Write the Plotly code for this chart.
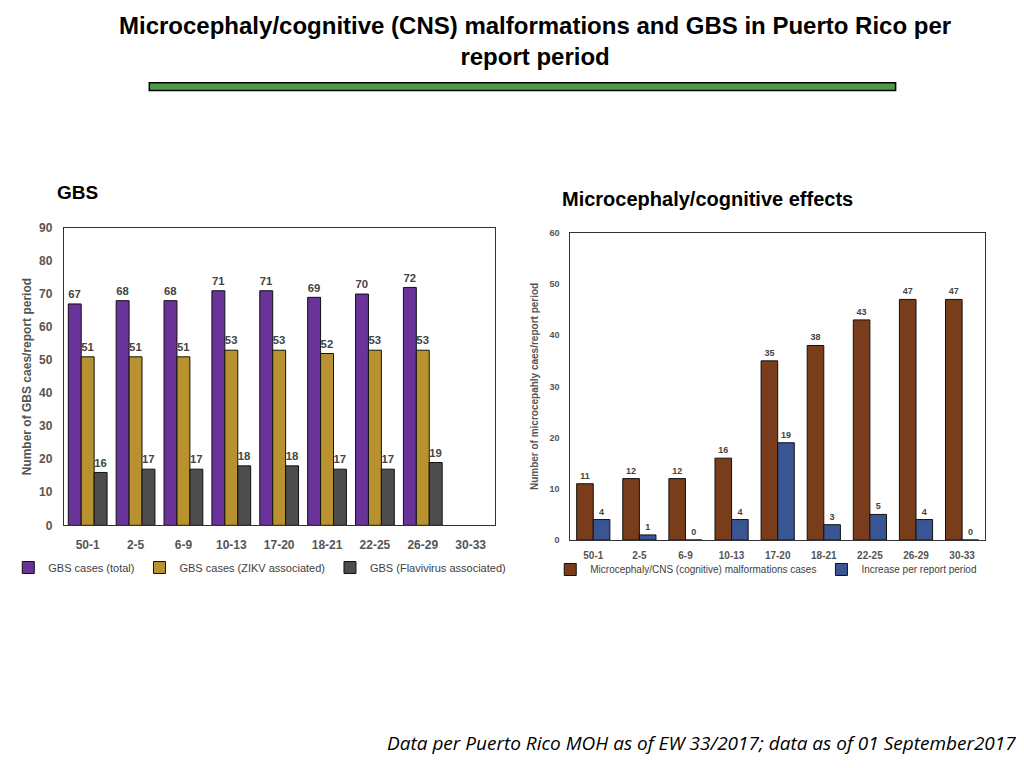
import plotly.graph_objects as go

# report periods (epi weeks)
periods = ['50-1', '2-5', '6-9', '10-13', '17-20', '18-21', '22-25', '26-29', '30-33']

# GBS panel
gbs_total = [67, 68, 68, 71, 71, 69, 70, 72, None]
gbs_zikv = [51, 51, 51, 53, 53, 52, 53, 53, None]
gbs_flavi = [16, 17, 17, 18, 18, 17, 17, 19, None]

# Microcephaly panel
micro_cases = [11, 12, 12, 16, 35, 38, 43, 47, 47]
micro_increase = [4, 1, 0, 4, 19, 3, 5, 4, 0]

BASE_FONT = 'Liberation Sans, Arial, sans-serif'
GREY = '#555555'

# the page body has an 8px margin, so the figure is 1008x752 and
# reference pixel positions get shifted by 8
W, H = 1008, 752


def px(x):
    return (x - 8) / W


def py(y):
    return 1 - (y - 8) / H


fig = go.Figure()

# ---------------------------------- GBS ---------------------------------------
gbs_series = [
    ('GBS cases (total)', gbs_total, '#6a3399'),
    ('GBS cases (ZIKV associated)', gbs_zikv, '#b8922e'),
    ('GBS (Flavivirus associated)', gbs_flavi, '#4d4d4d'),
]
for name, vals, col in gbs_series:
    fig.add_trace(go.Bar(x=periods, y=vals, name=name, xaxis='x', yaxis='y',
                         marker=dict(color=col, line=dict(color='#111111', width=1)),
                         text=vals, textposition='outside', cliponaxis=False,
                         textfont=dict(size=12, color='#444444', weight='bold'),
                         legend='legend'))

# ---------------------------------- Microcephaly ---------------------------------------
# this panel has wider gaps, so its bars get an explicit width/offset
bar_w = 0.36
micro_series = [
    ('Microcephaly/CNS (cognitive) malformations cases', micro_cases, '#7a3d1b', -bar_w),
    ('Increase per report period', micro_increase, '#3a5594', 0),
]
for name, vals, col, off in micro_series:
    fig.add_trace(go.Bar(x=periods, y=vals, name=name, xaxis='x2', yaxis='y2',
                         width=bar_w, offset=off,
                         marker=dict(color=col, line=dict(color='#111111', width=1)),
                         text=vals, textposition='outside', cliponaxis=False,
                         textfont=dict(size=9, color='#444444', weight='bold'),
                         legend='legend2'))

# ---------------------------------- Layout ---------------------------------------
axis_common = dict(showline=True, linecolor='#333333', linewidth=1, mirror=True,
                   showgrid=False, zeroline=False, ticks='')

fig.update_layout(
    width=W, height=H,
    margin=dict(l=0, r=0, t=0, b=0),
    paper_bgcolor='white', plot_bgcolor='white',
    font=dict(family=BASE_FONT, color=GREY),
    barmode='group', bargap=0.19, bargroupgap=0,
    xaxis=dict(domain=[px(59), px(492)], anchor='y', type='category', ticklabelstandoff=8,
               tickfont=dict(size=12, color=GREY, weight='bold'), **axis_common),
    yaxis=dict(domain=[py(528), py(225)], anchor='x', range=[0, 90], dtick=10,
               ticklabelstandoff=8,
               tickfont=dict(size=12, color=GREY, weight='bold'),
               title=dict(text='Number of GBS caes/report period', standoff=4,
                          font=dict(size=12, color=GREY, weight='bold')),
               **axis_common),
    xaxis2=dict(domain=[px(568), px(985)], anchor='y2', type='category', ticklabelstandoff=6,
                tickfont=dict(size=10, color=GREY, weight='bold'), **axis_common),
    yaxis2=dict(domain=[py(543), py(230)], anchor='x2', range=[0, 60], dtick=10,
                ticklabelstandoff=8,
                tickfont=dict(size=9, color=GREY, weight='bold'),
                title=dict(text='Number of microcepahly caes/report period', standoff=8,
                           font=dict(size=10, color=GREY, weight='bold')),
                **axis_common),
    legend=dict(orientation='h', x=px(256), y=py(571), xanchor='center', yanchor='middle',
                font=dict(size=11, color='#404040'), itemwidth=30,
                bgcolor='rgba(0,0,0,0)'),
    legend2=dict(orientation='h', x=px(765), y=py(573), xanchor='center', yanchor='middle',
                 font=dict(size=10, color='#404040'), itemwidth=30,
                 bgcolor='rgba(0,0,0,0)'),
)

# green divider bar under the title
fig.add_shape(type='rect', xref='paper', yref='paper',
              x0=px(145), x1=px(895), y0=py(85), y1=py(77),
              fillcolor='#4c9a47', line=dict(color='black', width=1.5))

annotations = [
    dict(text='<b>Microcephaly/cognitive (CNS) malformations and GBS in Puerto Rico per<br>report period</b>',
         x=px(533), y=py(34), xanchor='center', yanchor='middle',
         font=dict(family=BASE_FONT, size=24, color='black')),
    dict(text='<b>GBS</b>', x=px(50), y=py(189), xanchor='left', yanchor='middle',
         font=dict(size=19, color='black')),
    dict(text='<b>Microcephaly/cognitive effects</b>', x=px(558), y=py(195),
         xanchor='left', yanchor='middle', font=dict(size=20, color='black')),
    dict(text='<i>Data per Puerto Rico MOH as of EW 33/2017; data as of 01 September2017</i>',
         x=px(1018), y=py(750), xanchor='right', yanchor='middle',
         font=dict(family='Open Sans, Liberation Sans', size=19, color='black')),
]
for a in annotations:
    fig.add_annotation(xref='paper', yref='paper', showarrow=False, **a)

fig.write_html('out.html')
